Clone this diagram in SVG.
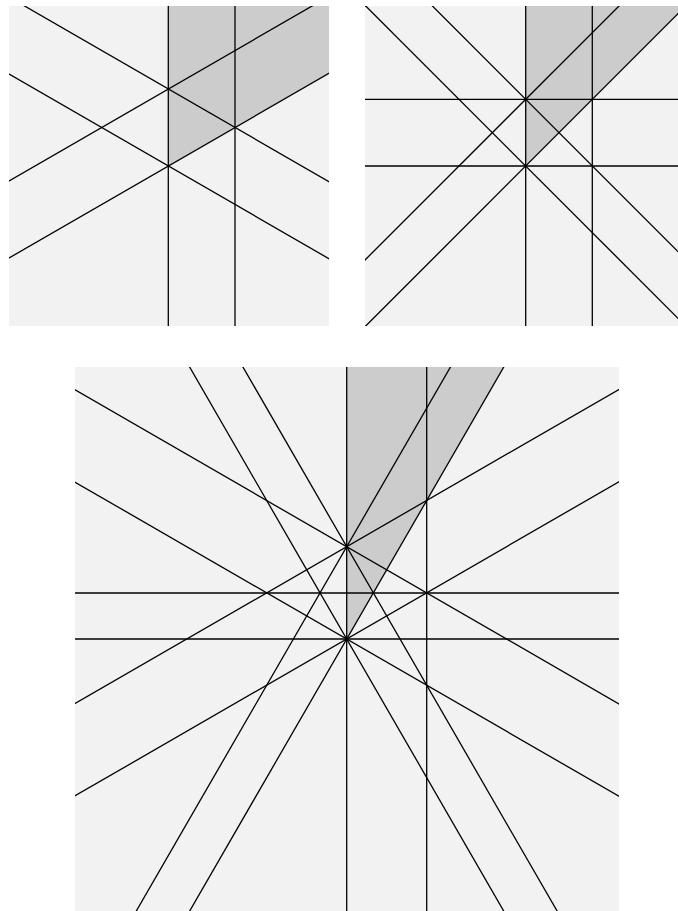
<svg xmlns="http://www.w3.org/2000/svg" width="678" height="911" viewBox="0 0 678 911">
  <style>
    .bg { fill: #f2f2f2; }
    .sh { fill: #cccccc; }
    .ln { stroke: #000000; stroke-width: 1.3; fill: none; }
  </style>
  <defs>
    <clipPath id="c1"><rect x="9" y="6" width="320" height="320"/></clipPath>
    <clipPath id="c2"><rect x="365" y="6" width="320" height="320"/></clipPath>
    <clipPath id="c3"><rect x="75" y="367" width="544" height="544"/></clipPath>
  </defs>
  <rect width="678" height="911" fill="#ffffff"/>

  <g id="panel1" clip-path="url(#c1)">
    <rect class="bg" x="9" y="6" width="320" height="320"/>
    <polygon class="sh" points="168.3,6 329,6 329,73.2 168.3,166"/>
    <g class="ln">
      <line x1="168.3" y1="0" x2="168.3" y2="340"/>
      <line x1="235" y1="0" x2="235" y2="340"/>
      <line x1="0" y1="-8.2" x2="340" y2="188.1"/>
      <line x1="0" y1="68.8" x2="340" y2="265.1"/>
      <line x1="0" y1="186.2" x2="340" y2="-10.1"/>
      <line x1="0" y1="263.2" x2="340" y2="66.9"/>
    </g>
  </g>

  <g id="panel2" clip-path="url(#c2)">
    <rect class="bg" x="365" y="6" width="320" height="320"/>
    <polygon class="sh" points="525.7,6 685.7,6 525.7,166"/>
    <g class="ln">
      <line x1="525.7" y1="0" x2="525.7" y2="340"/>
      <line x1="592.3" y1="0" x2="592.3" y2="340"/>
      <line x1="355" y1="99.3" x2="690" y2="99.3"/>
      <line x1="355" y1="166" x2="690" y2="166"/>
      <line x1="355" y1="-71.4" x2="690" y2="263.6"/>
      <line x1="355" y1="-4.7" x2="690" y2="330.3"/>
      <line x1="355" y1="270" x2="690" y2="-65"/>
      <line x1="355" y1="336.7" x2="690" y2="1.7"/>
    </g>
  </g>

  <g id="panel3" clip-path="url(#c3)">
    <rect class="bg" x="75" y="367" width="544" height="544"/>
    <polygon class="sh" points="346.7,367 503.7,367 346.7,639"/>
    <g class="ln">
      <line x1="346.7" y1="355" x2="346.7" y2="920"/>
      <line x1="426.7" y1="355" x2="426.7" y2="920"/>
      <line x1="60" y1="593" x2="635" y2="593"/>
      <line x1="60" y1="639" x2="635" y2="639"/>
      <line x1="60" y1="381.2" x2="635" y2="713.2"/>
      <line x1="60" y1="712.2" x2="635" y2="380.2"/>
      <line x1="60" y1="473.5" x2="635" y2="805.5"/>
      <line x1="60" y1="804.5" x2="635" y2="472.5"/>
      <line x1="457.4" y1="355" x2="131.1" y2="920"/>
      <line x1="236.0" y1="355" x2="562.3" y2="920"/>
      <line x1="510.7" y1="355" x2="184.5" y2="920"/>
      <line x1="182.7" y1="355" x2="508.9" y2="920"/>
    </g>
  </g>
</svg>
